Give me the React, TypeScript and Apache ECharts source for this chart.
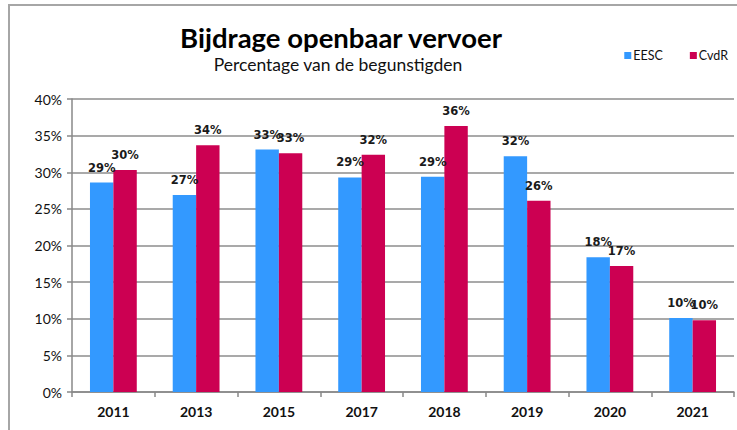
import React, { useEffect, useRef } from "react";
import * as echarts from "echarts";

const categories = ["2011", "2013", "2015", "2017", "2018", "2019", "2020", "2021"];
const eescValues = [28.6, 26.9, 33.1, 29.3, 29.4, 32.2, 18.4, 10.1];
const cvdrValues = [30.3, 33.7, 32.6, 32.4, 36.3, 26.1, 17.2, 9.8];
const yTicks = [0, 5, 10, 15, 20, 25, 30, 35, 40];

const FONT = "Lato, 'Open Sans', sans-serif";

export default function App() {
  const ref = useRef<HTMLDivElement>(null);
  useEffect(() => {
    if (!ref.current) return;
    const chart = echarts.init(ref.current, undefined, { renderer: "svg" });
    const labelCfg = {
      show: true,
      position: "top" as const,
      distance: 9,
      fontFamily: "'DejaVu Sans', sans-serif",
      fontWeight: "bold" as const,
      fontSize: 11.5,
      color: "#1a1a1a",
      formatter: (p: any) => Math.round(p.value) + "%",
    };
    chart.setOption({
      animation: false,
      backgroundColor: "#ffffff",
      title: [
        {
          text: "Bijdrage openbaar vervoer",
          left: 336,
          top: 18,
          textAlign: "center",
          textStyle: { fontFamily: FONT, fontWeight: "bold", fontSize: 27.5, color: "#000" },
        },
        {
          text: "Percentage van de begunstigden",
          left: 333,
          top: 50,
          textAlign: "center",
          textStyle: { fontFamily: FONT, fontWeight: "normal", fontSize: 17.5, color: "#111" },
        },
      ],
      legend: {
        right: 4,
        top: 44,
        icon: "rect",
        itemWidth: 7,
        itemHeight: 7,
        itemGap: 27,
        textStyle: { fontFamily: FONT, fontSize: 12.5, color: "#111", padding: [0, 0, 0, -3] },
        data: ["EESC", "CvdR"],
      },
      grid: { left: 72, right: 3, top: 99, bottom: 38, containLabel: false },
      xAxis: {
        type: "category",
        data: categories,
        axisLine: { lineStyle: { color: "#888", width: 1.5 } },
        axisTick: { show: true, length: 5, lineStyle: { color: "#888", width: 1.5 } },
        axisLabel: { fontFamily: FONT, fontWeight: "bold", fontSize: 14, color: "#111", margin: 12 },
      },
      yAxis: {
        type: "value",
        min: yTicks[0],
        max: yTicks[yTicks.length - 1],
        interval: 5,
        axisLine: { show: true, lineStyle: { color: "#888", width: 1.5 } },
        axisTick: { show: true, length: 5, inside: false, lineStyle: { color: "#888", width: 1.5 } },
        splitLine: { lineStyle: { color: "#8c8c8c", width: 1.5 } },
        axisLabel: {
          fontFamily: FONT,
          fontSize: 14,
          color: "#111",
          margin: 10,
          formatter: (v: number) => v + "%",
        },
      },
      graphic: [
        {
          type: "polyline",
          shape: { points: [[9, 440], [9, 5], [745, 5]] },
          style: { stroke: "#a6a6a6", lineWidth: 2, fill: "none" },
          silent: true,
        },
      ],
      series: [
        {
          name: "EESC",
          type: "bar",
          data: eescValues,
          barWidth: 23.4,
          barGap: "0%",
          itemStyle: { color: "#3399FF" },
          label: labelCfg,
        },
        {
          name: "CvdR",
          type: "bar",
          data: cvdrValues,
          barWidth: 23.4,
          barGap: "0%",
          itemStyle: { color: "#CC0052" },
          label: labelCfg,
        },
      ],
    });
    return () => chart.dispose();
  }, []);
  return <div ref={ref} style={{ width: 737, height: 430, position: "absolute", left: 0, top: 0 }} />;
}
